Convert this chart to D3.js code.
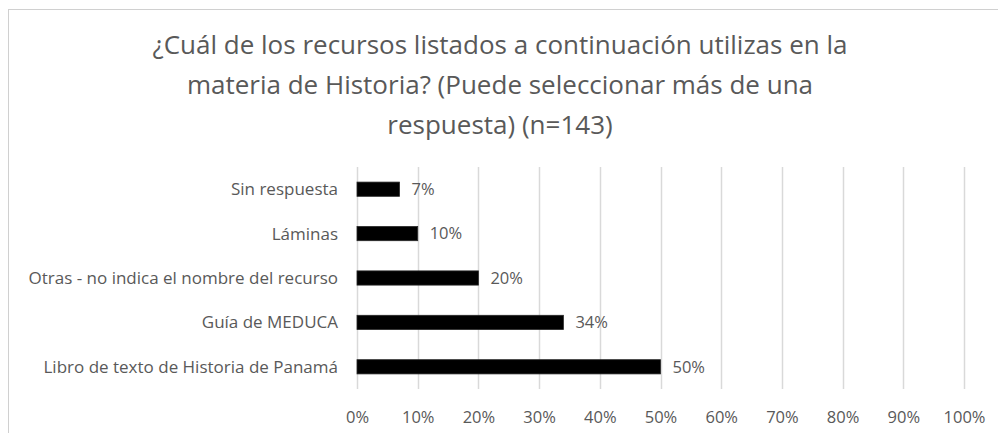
<!DOCTYPE html>
<html>
<head>
<meta charset="utf-8">
<script src="https://cdn.jsdelivr.net/npm/d3@7"></script>
<style>
  body { margin: 0; background: #fff; }
  svg text { font-family: "Open Sans", "DejaVu Sans", sans-serif; fill: #595959; }
</style>
</head>
<body>
<div id="chart"></div>
<script>
(function () {
    const width = 998;
    const height = 433;

    // Data
    const titleLines = [
        "¿Cuál de los recursos listados a continuación utilizas en la",
        "materia de Historia? (Puede seleccionar más de una",
        "respuesta) (n=143)"
    ];
    const categories = [
        "Sin respuesta",
        "Láminas",
        "Otras - no indica el nombre del recurso",
        "Guía de MEDUCA",
        "Libro de texto de Historia de Panamá"
    ];
    const values = [0.07, 0.10, 0.20, 0.34, 0.50];
    const ticks = [0, 0.1, 0.2, 0.3, 0.4, 0.5, 0.6, 0.7, 0.8, 0.9, 1.0];

    const plot = { left: 357, right: 964, top: 167, bottom: 389 };

    const svg = d3.select("#chart")
        .append("svg")
        .attr("width", width)
        .attr("height", height)
        .attr("viewBox", [0, 0, width, height]);

    // Chart border (cut off at the right and bottom in the original)
    svg.append("rect")
        .attr("x", 8.5)
        .attr("y", 9.5)
        .attr("width", 1000)
        .attr("height", 440)
        .attr("fill", "none")
        .attr("stroke", "#d0d0d0")
        .attr("stroke-width", 1);

    // Title
    svg.append("g")
        .selectAll("text")
        .data(titleLines)
        .enter()
        .append("text")
        .attr("x", 500)
        .attr("y", (d, i) => 54 + i * 40)
        .attr("text-anchor", "middle")
        .style("font-size", "26px")
        .text(d => d);

    // Scales
    const x = d3.scaleLinear()
        .domain([0, 1])
        .range([plot.left, plot.right]);
    const y = d3.scaleBand()
        .domain(categories)
        .range([plot.top, plot.bottom])
        .paddingInner(0.68)
        .paddingOuter(0.34);

    // Gridlines
    svg.append("g")
        .selectAll("line")
        .data(ticks)
        .enter()
        .append("line")
        .attr("x1", d => Math.round(x(d)) + 0.5)
        .attr("x2", d => Math.round(x(d)) + 0.5)
        .attr("y1", plot.top)
        .attr("y2", plot.bottom)
        .attr("stroke", "#d9d9d9")
        .attr("stroke-width", 1.5);

    // X axis tick labels
    const xAxis = d3.axisBottom(x)
        .tickValues(ticks)
        .tickFormat(d3.format(".0%"))
        .tickSize(0)
        .tickPadding(0);
    const gx = svg.append("g")
        .attr("transform", `translate(0,${plot.bottom + 22})`)
        .call(xAxis);
    gx.select(".domain").remove();
    gx.selectAll("text")
        .style("font-size", "16.5px")
        .style("font-family", "\"Open Sans\", sans-serif")
        .attr("fill", "#595959");

    // Bars
    svg.append("g")
        .selectAll("rect")
        .data(categories)
        .enter()
        .append("rect")
        .attr("x", x(0))
        .attr("y", d => y(d))
        .attr("width", (d, i) => x(values[i]) - x(0))
        .attr("height", y.bandwidth())
        .attr("fill", "#000")
        .attr("stroke", "#262626")
        .attr("stroke-width", 0.8);

    // Value labels
    svg.append("g")
        .selectAll("text")
        .data(categories)
        .enter()
        .append("text")
        .attr("x", (d, i) => x(values[i]) + 12)
        .attr("y", d => y(d) + y.bandwidth() / 2)
        .attr("dy", "0.35em")
        .style("font-size", "16.5px")
        .text((d, i) => d3.format(".0%")(values[i]));

    // Category labels
    svg.append("g")
        .selectAll("text")
        .data(categories)
        .enter()
        .append("text")
        .attr("x", 338)
        .attr("y", d => y(d) + y.bandwidth() / 2)
        .attr("dy", "0.35em")
        .attr("text-anchor", "end")
        .style("font-size", "17px")
        .text(d => d);
})();
</script>
</body>
</html>
